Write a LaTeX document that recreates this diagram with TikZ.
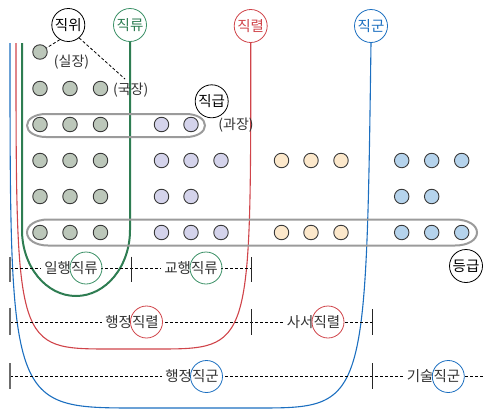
\documentclass[tikz,border=0pt]{standalone}
\usepackage{fontspec}
\setmainfont{Noto Sans CJK KR}
\definecolor{gline}{HTML}{2E7D52}
\definecolor{gcirc}{HTML}{3A9066}
\definecolor{rline}{HTML}{D0444A}
\definecolor{bline}{HTML}{1C6FC0}
\definecolor{dotline}{HTML}{3A3A3A}
\definecolor{gfill}{HTML}{BCC7BA}
\definecolor{pfill}{HTML}{D4D3EB}
\definecolor{ofill}{HTML}{FCE8CB}
\definecolor{bfill}{HTML}{B5D3EC}
\definecolor{ovalc}{HTML}{9B9B9B}
\definecolor{txt}{HTML}{333333}
\begin{document}
\begin{tikzpicture}[x=1pt,y=-1pt,
  dotbase/.style={circle, draw=dotline, line width=0.9pt, minimum size=14.5pt, inner sep=0pt},
  dg/.style={dotbase, fill=gfill},
  dp/.style={dotbase, fill=pfill},
  do/.style={dotbase, fill=ofill},
  db/.style={dotbase, fill=bfill},
  lab/.style={circle, draw, line width=0.8pt, minimum size=33pt, inner sep=0pt, font=\fontsize{14.5}{15}\selectfont},
  ring/.style={circle, draw, line width=0.8pt, minimum size=32pt, inner sep=0pt},
  rowtxt/.style={fill=white, inner xsep=3pt, inner ysep=1pt, text=txt, font=\fontsize{14.5}{15}\selectfont},
  paren/.style={inner sep=1pt, text=txt, font=\fontsize{14}{15}\selectfont},
  oval/.style={draw=ovalc, line width=2pt},
  dashl/.style={dash pattern=on 3pt off 2pt, line width=0.8pt},
  tickl/.style={draw=gray!85!black, line width=1.8pt},
  tickm/.style={draw=black!85, line width=1pt},
]
\useasboundingbox (0,0) rectangle (485,410);

% top label circles
\node[lab, draw=black, text=black] (jikwi) at (68.3,25) {직위};
\node[lab, draw=gcirc, text=gline] (jikryu) at (130,25) {직류};
\node[lab, draw=rline, text=rline] (jikryeol) at (250.7,26) {직렬};
\node[lab, draw=bline, text=bline] (jikgun) at (371,26) {직군};

% free ends
\coordinate (gtop) at (22,43);
\coordinate (rtop) at (16,43);
\coordinate (btop) at (10,43);

% grouping lines
\draw[bline, line width=1.1pt] (jikgun.south) .. controls (366,408) and (366,408) .. (256,408)
  -- (138,408) .. controls (10,408) and (10,408) .. (btop);
\draw[rline, line width=1.1pt] (jikryeol.south) .. controls (251,349) and (251,349) .. (156,349)
  -- (111,349) .. controls (16,349) and (16,349) .. (rtop);
\draw[gline, line width=2pt] (jikryu.south) -- (130,230) .. controls (130,266.5) and (105.8,296) .. (76,296)
  .. controls (46.2,296) and (22,266.5) .. (22,230) -- (gtop);

% ovals
\draw[oval] (27,125.5) .. controls (27,119) and (35,114) .. (46,114) -- (186,114)
  .. controls (197,114) and (205,119) .. (205,125.5) .. controls (205,132) and (197,137) .. (186,137)
  -- (46,137) .. controls (35,137) and (27,132) .. (27,125.5);
\draw[oval] (27,232.5) .. controls (27,225) and (36,219.5) .. (48,219.5) -- (455,219.5)
  .. controls (468,219.5) and (477,225) .. (477,232.5) .. controls (477,240) and (468,245.5) .. (455,245.5)
  -- (48,245.5) .. controls (36,245.5) and (27,240) .. (27,232.5);

% dots
\node[dg] (r1g1) at (40,52) {};
\foreach \c/\x in {1/40,2/70,3/100.5}{
  \node[dg] (r2g\c) at (\x,88.5) {};
  \node[dg] (r3g\c) at (\x,124.5) {};
  \node[dg] (r4g\c) at (\x,160.5) {};
  \node[dg] (r5g\c) at (\x,196.5) {};
  \node[dg] (r6g\c) at (\x,232.5) {};
}
\foreach \c/\x in {1/161.5,2/191,3/221}{
  \node[dp] (r4p\c) at (\x,160.5) {};
  \node[dp] (r6p\c) at (\x,232.5) {};
}
\foreach \c/\x in {1/161.5,2/191}{
  \node[dp] (r3p\c) at (\x,124.5) {};
  \node[dp] (r5p\c) at (\x,196.5) {};
}
\foreach \c/\x in {1/281.5,2/311,3/341}{
  \node[do] (r4o\c) at (\x,160.5) {};
  \node[do] (r6o\c) at (\x,232.5) {};
}
\foreach \c/\x in {1/401.7,2/431.7,3/461.7}{
  \node[db] (r4b\c) at (\x,160.5) {};
  \node[db] (r6b\c) at (\x,232.5) {};
}
\foreach \c/\x in {1/401.7,2/431.7}{
  \node[db] (r5b\c) at (\x,196.5) {};
}

% 직위 annotations
\node[paren] (siljang) at (71.5,62) {(실장)};
\node[paren] (gukjang) at (130.7,90) {(국장)};
\coordinate (gk) at (125,79);
\draw[dashl] (jikwi.240) -- (r1g1);
\draw[dashl] (jikwi.310) -- (gk);

% 직급, 등급
\node[lab, draw=black, text=black] (jikgeup) at (211.7,101.3) {직급};
\node[paren] (gwajang) at (236,125) {(과장)};
\node[lab, draw=black, text=black] (deunggeup) at (466,266) {등급};

% scale rows: ticks
\coordinate (t1a) at (10,256.5); \coordinate (t1b) at (10,281.5);
\coordinate (t2a) at (131.5,256.5); \coordinate (t2b) at (131.5,281.5);
\coordinate (t3a) at (251,257); \coordinate (t3b) at (251,281.5);
\coordinate (e1) at (251,268);
\coordinate (s1) at (10,268);
\draw[dashl] (s1) -- (e1);
\draw[tickl] (t1a) -- (t1b);
\draw[tickm] (t2a) -- (t2b);
\draw[tickm] (t3a) -- (t3b);

\coordinate (u1a) at (10,307.5); \coordinate (u1b) at (10,335);
\coordinate (u2a) at (251,309); \coordinate (u2b) at (251,335);
\coordinate (u3a) at (372,309); \coordinate (u3b) at (372,335);
\coordinate (s2) at (10,322); \coordinate (e2) at (372,322);
\draw[dashl] (s2) -- (e2);
\draw[tickl] (u1a) -- (u1b);
\draw[tickm] (u2a) -- (u2b);
\draw[tickm] (u3a) -- (u3b);

\coordinate (v1a) at (10,363); \coordinate (v1b) at (10,389);
\coordinate (v2a) at (372,363); \coordinate (v2b) at (372,389);
\coordinate (s3) at (10,376.5); \coordinate (e3) at (485,376.5);
\draw[dashl] (s3) -- (e3);
\draw[tickl] (v1a) -- (v1b);
\draw[tickm] (v2a) -- (v2b);

% row labels
\node[rowtxt] (ilhaeng) at (71,268) {일행직류};
\node[ring, draw=gcirc] (ilhaengc) at (86,268) {};
\node[rowtxt] (gyohaeng) at (191,268) {교행직류};
\node[ring, draw=gcirc] (gyohaengc) at (206,268) {};
\node[rowtxt] (haengjeongr) at (132,322) {행정직렬};
\node[ring, draw=rline] (haengjeongrc) at (146.5,322) {};
\node[rowtxt] (saseo) at (313.5,322) {사서직렬};
\node[ring, draw=rline] (saseoc) at (328,322) {};
\node[rowtxt] (haengjeongg) at (192,376.5) {행정직군};
\node[ring, draw=bline] (haengjeonggc) at (206.5,376.5) {};
\node[rowtxt] (gisul) at (433.5,376.5) {기술직군};
\node[ring, draw=bline] (gisulc) at (448.3,376.5) {};
\end{tikzpicture}
\end{document}
